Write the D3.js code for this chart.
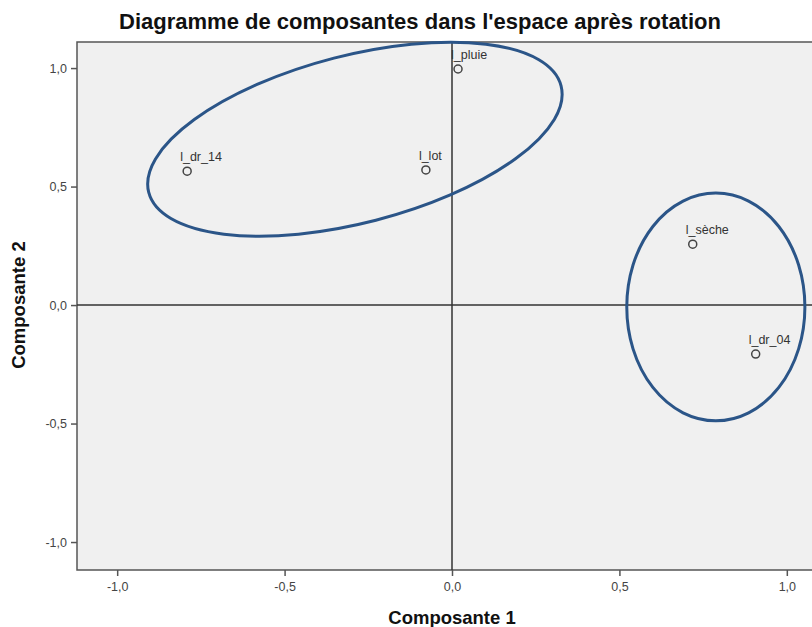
<!DOCTYPE html>
<html>
<head>
<meta charset="utf-8">
<script src="https://cdn.jsdelivr.net/npm/d3@7"></script>
<style>
    body { margin: 0; background: #fff; }
    text { font-family: "Liberation Sans", Arial, sans-serif; }
</style>
</head>
<body>
<div id="chart"></div>
<script>
// component loadings after rotation
const names = ['l_pluie', 'l_lot', 'l_dr_14', 'l_sèche', 'l_dr_04'];
const comp1 = [0.018, -0.078, -0.791, 0.719, 0.907];
const comp2 = [0.996, 0.570, 0.565, 0.257, -0.207];
const ticks = [-1.0, -0.5, 0.0, 0.5, 1.0];

// hand-drawn grouping ellipses (centre in data units, radii in x units)
const groupCx = [-0.29, 0.788];
const groupCy = [0.70, -0.008];
const groupRx = [0.636, 0.266];
const groupRy = [0.250, 0.340];
const groupAngle = [-14.5, 0];

const width = 812, height = 627;
const margin = { top: 42, left: 77, bottom: 57 };

const svg = d3.select('#chart').append('svg')
    .attr('width', width)
    .attr('height', height);

const x = d3.scaleLinear().domain([-1.12, 1.12]).range([margin.left, 827]);
const y = d3.scaleLinear().domain([-1.118, 1.11]).range([height - margin.bottom, margin.top]);

// plot background
svg.append('rect')
    .attr('x', x(-1.12)).attr('y', y(1.11))
    .attr('width', x(1.12) - x(-1.12))
    .attr('height', y(-1.118) - y(1.11))
    .attr('fill', '#f0f0f0')
    .attr('stroke', '#555')
    .attr('stroke-width', 1.5);

// axes
const fmt = d => d3.format('.1f')(d).replace('.', ',').replace('−', '-');
const xAxis = d3.axisBottom(x).tickValues(ticks).tickSize(6).tickPadding(6).tickFormat(fmt);
const yAxis = d3.axisLeft(y).tickValues(ticks).tickSize(6).tickPadding(4).tickFormat(fmt);

const gx = svg.append('g')
    .attr('transform', `translate(0,${y(-1.118)})`)
    .call(xAxis);
const gy = svg.append('g')
    .attr('transform', `translate(${x(-1.12)},0)`)
    .call(yAxis);

[gx, gy].forEach(g => {
    g.select('.domain').remove();
    g.selectAll('line').attr('stroke', '#555').attr('stroke-width', 1.5);
    g.selectAll('text').attr('fill', '#444').style('font-size', '12.5px');
});

// zero reference lines
svg.append('line')
    .attr('x1', x(0)).attr('x2', x(0))
    .attr('y1', y(1.11)).attr('y2', y(-1.118))
    .attr('stroke', '#333').attr('stroke-width', 1.5);
svg.append('line')
    .attr('x1', x(-1.12)).attr('x2', x(1.12))
    .attr('y1', y(0)).attr('y2', y(0))
    .attr('stroke', '#333').attr('stroke-width', 1.5);

// points and labels
const pts = names.map((n, i) => ({ name: n, c1: comp1[i], c2: comp2[i] }));

svg.selectAll('circle.pt')
    .data(pts)
    .join('circle')
    .attr('class', 'pt')
    .attr('cx', d => x(d.c1))
    .attr('cy', d => y(d.c2))
    .attr('r', 4)
    .attr('fill', 'none')
    .attr('stroke', '#444')
    .attr('stroke-width', 1.5);

svg.selectAll('text.lbl')
    .data(pts)
    .join('text')
    .attr('class', 'lbl')
    .attr('x', d => x(d.c1) - 7)
    .attr('y', d => y(d.c2) - 10)
    .attr('fill', '#333')
    .style('font-size', '12.5px')
    .text(d => d.name);

// grouping ellipses
const kx = x(1) - x(0);
groupCx.forEach((cx, i) => {
    svg.append('ellipse')
        .attr('transform', `translate(${x(cx)},${y(groupCy[i])}) rotate(${groupAngle[i]})`)
        .attr('rx', groupRx[i] * kx)
        .attr('ry', groupRy[i] * kx)
        .attr('fill', 'none')
        .attr('stroke', '#2b5588')
        .attr('stroke-width', 3);
});

// titles
svg.append('text')
    .attr('x', 420).attr('y', 29)
    .attr('text-anchor', 'middle')
    .style('font-size', '22px').style('font-weight', 'bold')
    .attr('fill', '#111')
    .text("Diagramme de composantes dans l'espace après rotation");

svg.append('text')
    .attr('x', x(0)).attr('y', 624)
    .attr('text-anchor', 'middle')
    .style('font-size', '18.5px').style('font-weight', 'bold')
    .attr('fill', '#111')
    .text('Composante 1');

svg.append('text')
    .attr('transform', `translate(25,${y(0)}) rotate(-90)`)
    .attr('text-anchor', 'middle')
    .style('font-size', '18.5px').style('font-weight', 'bold')
    .attr('fill', '#111')
    .text('Composante 2');
</script>
</body>
</html>
